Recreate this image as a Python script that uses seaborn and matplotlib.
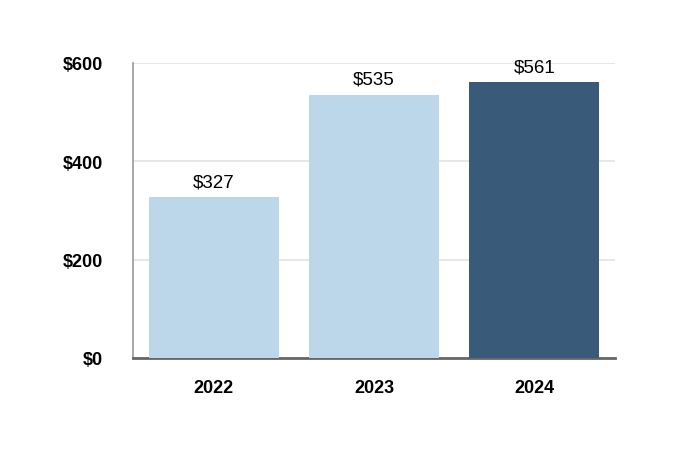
import matplotlib
matplotlib.use("Agg")
import matplotlib.pyplot as plt
import seaborn as sns
import pandas as pd

years = ["2022", "2023", "2024"]
values = [327, 535, 561]
colors = ["#bcd6ea", "#bcd6ea", "#3a5a7a"]

sns.set_style("white")
plt.rcParams["font.family"] = ["Liberation Sans", "DejaVu Sans"]
plt.rcParams["text.color"] = "black"
plt.rcParams["xtick.color"] = "black"
plt.rcParams["ytick.color"] = "black"

df = pd.DataFrame({"year": years, "value": values})

fig = plt.figure(figsize=(6.8, 4.6), dpi=100)
ax = fig.add_axes([0.196, 0.22, 0.708, 0.641])

sns.barplot(data=df, x="year", y="value", hue="year", palette=colors,
            width=0.81, saturation=1, legend=False, ax=ax, zorder=3, linewidth=0)

ax.set_ylim(0, 600)
ax.set_xlim(-0.5, 2.5)
ax.set_yticks([0, 200, 400, 600])
ax.set_yticklabels([f"${v}" for v in [0, 200, 400, 600]], fontsize=13, fontweight="bold")
for lbl in ax.get_xticklabels():
    lbl.set_fontsize(13)
    lbl.set_fontweight("bold")
ax.tick_params(axis="x", length=0, pad=15)
ax.tick_params(axis="y", length=0, pad=22)
ax.yaxis.grid(True, color="#e3e3e3", linewidth=1.2, zorder=0)
ax.set_xlabel("")
ax.set_ylabel("")

for s in ["top", "right"]:
    ax.spines[s].set_visible(False)
ax.spines["left"].set_color("#999999")
ax.spines["left"].set_linewidth(1.2)
ax.spines["bottom"].set_color("#666666")
ax.spines["bottom"].set_linewidth(2)

for i, v in enumerate(values):
    ax.annotate(f"${v}", (i, v), xytext=(0, 5), textcoords="offset points",
                ha="center", va="bottom", fontsize=13.5)

fig.savefig("out.png", dpi=100)
